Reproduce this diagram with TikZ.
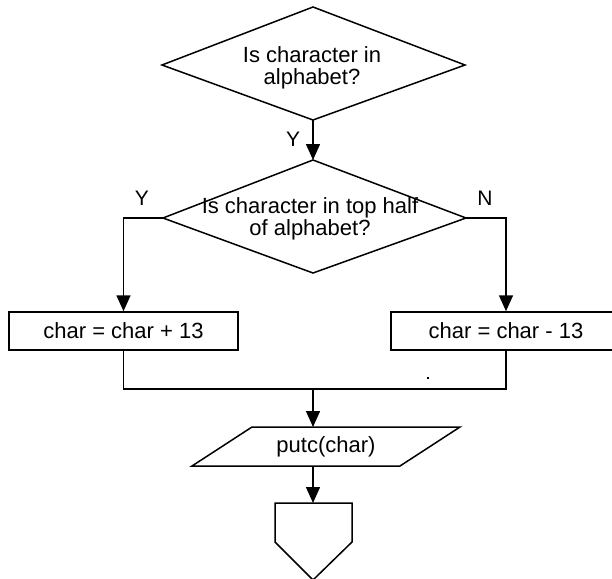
\documentclass[tikz,border=0pt]{standalone}
\usepackage{fontspec}
\setmainfont{Liberation Sans}
\usetikzlibrary{arrows.meta}

\begin{document}
\begin{tikzpicture}[x=1pt,y=-1pt,
  outline/.style={draw=black, line width=1.5pt, line join=miter},
  link/.style={draw=black, line width=1.5pt},
  flow/.style={link, -{Triangle[length=16pt,width=14pt]}},
  txt/.style={font=\fontsize{22}{22}\selectfont, inner sep=0pt, align=center},
  procbox/.style={outline, fill=white, minimum height=38pt, inner sep=0pt,
    font=\fontsize{22}{22}\selectfont},
  tag/.style={font=\fontsize{21}{21}\selectfont, inner sep=0pt}]
\useasboundingbox (0,0) rectangle (612,578);

% first decision
\coordinate (d1n) at (313,7);
\coordinate (d1e) at (465,65);
\coordinate (d1s) at (313,120);
\coordinate (d1w) at (162,65);
\draw[outline] (d1n) -- (d1e) -- (d1s) -- (d1w) -- cycle;
\node[txt] (q1) at (312,68) {Is character in\\alphabet?};

% second decision
\coordinate (d2n) at (313,160);
\coordinate (d2e) at (466,218);
\coordinate (d2s) at (313,273);
\coordinate (d2w) at (163,218);
\draw[outline] (d2n) -- (d2e) -- (d2s) -- (d2w) -- cycle;
\node[txt] (q2) at (310,219) {Is character in top half\\of alphabet?};

% the two processing boxes
\node[procbox, minimum width=229pt] (plus) at (123.5,331) {char = char + 13};
\node[procbox, minimum width=230pt] (minus) at (506,331) {char = char - 13};

% output parallelogram
\coordinate (pa) at (192,466);
\coordinate (pb) at (252,427);
\coordinate (pc) at (460,427);
\coordinate (pd) at (400,466);
\draw[outline] (pa) -- (pb) -- (pc) -- (pd) -- cycle;
\node[txt] (put) at (326,447) {putc(char)};
\coordinate (putin) at (313,427);
\coordinate (putout) at (313,466);

% off-page connector
\coordinate (c1) at (275,503);
\coordinate (c2) at (352,503);
\coordinate (c3) at (352,542);
\coordinate (c4) at (313,580);
\coordinate (c5) at (275,542);
\draw[outline] (c1) -- (c2) -- (c3) -- (c4) -- (c5) -- cycle;
\coordinate (conin) at (313,503);

% connectors
\draw[flow] (d1s) -- (d2n);
\draw[flow] (d2w) -| (plus.north);
\draw[flow] (d2e) -| (minus.north);
\coordinate (join) at (313,389);
\draw[link] (plus.south) |- (join) -| (minus.south);
\draw[flow] (join) -- (putin);
\draw[flow] (putout) -- (conin);

% branch labels
\node[tag] (ya) at (293,139) {Y};
\node[tag] (yb) at (142,198) {Y};
\node[tag] (nb) at (485,198) {N};

% stray mark
\fill (427,377) rectangle (429,379);
\end{tikzpicture}
\end{document}
